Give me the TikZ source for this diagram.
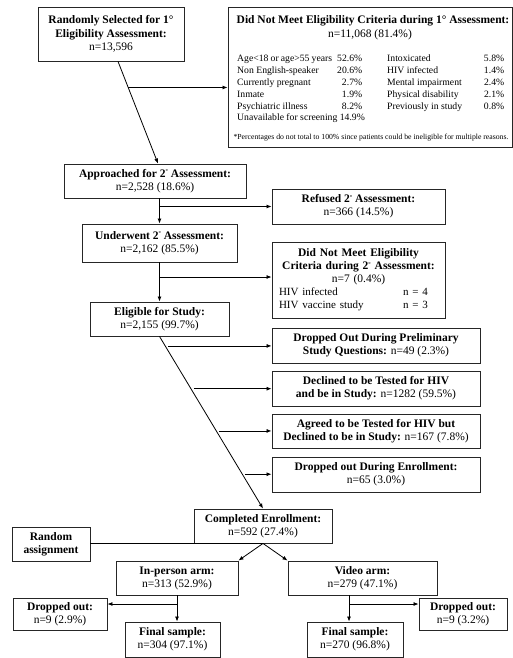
\documentclass[tikz,border=0pt]{standalone}
\usepackage{fontspec}
\usepackage{graphicx}
\setmainfont{Liberation Serif}
\usetikzlibrary{arrows.meta,calc}
\newcommand\critrow[2]{\hbox to 125pt{#1\hskip 5pt plus 1fill #2}}
\newcommand\critrowb[2]{\hbox to 117pt{#1\hfill #2}}
\newcommand\sdeg{\raisebox{3.5pt}{\fontsize{6}{6}\selectfont °}}
\begin{document}
\begin{tikzpicture}[x=1pt,y=-1pt,
  box/.style={draw=black!85,line width=0.9pt,align=center,inner sep=2pt,font=\fontsize{11.5}{13}\selectfont},
  arr/.style={line width=0.8pt,-{Latex[length=5pt,width=4pt]}},
  ln/.style={line width=0.8pt}]
\useasboundingbox (0,0) rectangle (513,658);

% top-left
\node[box,minimum width=146pt,minimum height=54pt,font=\fontsize{11.5}{13.5}\selectfont] (rand) at (111,34)
  {\textbf{Randomly Selected for 1°}\\\textbf{Eligibility Assessment:}\\n=13,596};

% big criteria box
\node[box,minimum width=284pt,minimum height=140pt] (crit1) at (370,77) {};
\node[anchor=base,inner sep=0,font=\bfseries\fontsize{11.5}{13}\selectfont] (crit1t) at (373,23.5)
  {Did Not Meet Eligibility Criteria during 1° Assessment:};
\node[anchor=base,inner sep=0,font=\fontsize{11.5}{13}\selectfont] (crit1n) at (370,37.5)
  {n=11,068 (81.4\%)};
\node[anchor=base west,inner sep=0] (crit1tab) at (237,61.5)
  {\fontsize{9.7}{11.9}\selectfont
   \begin{tabular}[t]{@{}l@{\hspace{25pt}}l@{}}
   \critrow{Age<18 or age>55 years}{52.6\%} & \critrowb{Intoxicated}{5.8\%}\\
   \critrow{Non English-speaker}{20.6\%} & \critrowb{HIV infected}{1.4\%}\\
   \critrow{Currently pregnant}{2.7\%} & \critrowb{Mental impairment}{2.4\%}\\
   \critrow{Inmate}{1.9\%} & \critrowb{Physical disability}{2.1\%}\\
   \critrow{Psychiatric illness}{8.2\%} & \critrowb{Previously in study}{0.8\%}\\
   \hbox to 125pt{Unavailable for screening 14.9\%\hss} & \\
   \end{tabular}};
\node[anchor=base,inner sep=0] (crit1f) at (371,139)
  {\resizebox{275pt}{!}{\fontsize{6}{7}\selectfont *Percentages do not total to 100\% since patients could be ineligible for multiple reasons.}};

% middle column
\node[box,minimum width=182pt,minimum height=34pt] (appr) at (155,181)
  {\textbf{Approached for 2\sdeg\ Assessment:}\\n=2,528 (18.6\%)};
\node[box,minimum width=173pt,minimum height=35pt] (refused) at (358.5,206.5)
  {\textbf{Refused 2\sdeg\ Assessment:}\\n=366 (14.5\%)};
\node[box,minimum width=155pt,minimum height=38pt] (und) at (159.5,243)
  {\textbf{Underwent 2\sdeg\ Assessment:}\\n=2,162 (85.5\%)};
\node[box,minimum width=173pt,minimum height=76pt,text width=166pt] (crit2) at (358.5,280)
  {\textbf{Did Not Meet Eligibility}\\\textbf{Criteria during 2\sdeg\ Assessment:}\\n=7 (0.4\%)\\
   \fontsize{11}{13}\selectfont\makebox[159pt][l]{\makebox[124pt][l]{HIV infected}n = 4}\\
   \makebox[159pt][l]{\makebox[124pt][l]{HIV vaccine study}n = 3}};
\node[box,minimum width=139pt,minimum height=34pt] (elig) at (159.5,319)
  {\textbf{Eligible for Study:}\\n=2,155 (99.7\%)};

\node[box,minimum width=208pt,minimum height=35pt] (prelim) at (376,345.5)
  {\textbf{Dropped Out During Preliminary}\\\textbf{Study Questions:} n=49 (2.3\%)};
\node[box,minimum width=208pt,minimum height=35pt] (declined) at (376,388.5)
  {\textbf{Declined to be Tested for HIV}\\\textbf{and be in Study:} n=1282 (59.5\%)};
\node[box,minimum width=208pt,minimum height=34pt] (agreed) at (376,431)
  {\textbf{Agreed to be Tested for HIV but}\\\textbf{Declined to be in Study:} n=167 (7.8\%)};
\node[box,minimum width=208pt,minimum height=35pt] (dropenr) at (376,474.5)
  {\textbf{Dropped out During Enrollment:}\\n=65 (3.0\%)};

% bottom
\node[box,minimum width=138pt,minimum height=34pt] (comp) at (263,526)
  {\textbf{Completed Enrollment:}\\n=592 (27.4\%)};
\node[box,minimum width=78pt,minimum height=34pt] (randa) at (51,544)
  {\textbf{Random}\\\textbf{assignment}};
\node[box,minimum width=122pt,minimum height=34pt] (inp) at (177,578)
  {\textbf{In-person arm:}\\n=313 (52.9\%)};
\node[box,minimum width=149pt,minimum height=34pt] (vid) at (362.5,578)
  {\textbf{Video arm:}\\n=279 (47.1\%)};
\node[box,minimum width=94pt,minimum height=32pt] (dropL) at (60,614)
  {\textbf{Dropped out:}\\n=9 (2.9\%)};
\node[box,minimum width=95pt,minimum height=35pt] (finL) at (172.5,639.5)
  {\textbf{Final sample:}\\n=304 (97.1\%)};
\node[box,minimum width=88pt,minimum height=32pt] (dropR) at (463,614)
  {\textbf{Dropped out:}\\n=9 (3.2\%)};
\node[box,minimum width=96pt,minimum height=35pt] (finR) at (355,639.5)
  {\textbf{Final sample:}\\n=270 (96.8\%)};

% connectors top
\coordinate (d1a) at ($(rand.south)+(7,0)$);
\coordinate (d1b) at ($(appr.north)+(3,0)$);
\draw[arr] (d1a) -- (d1b);
\coordinate (b1) at ($(d1a)!0.255!(d1b)$);
\draw[arr] (b1) -- (b1 -| crit1.west);

\draw[arr] (und.north |- appr.south) -- (und.north);
\draw[arr] (und.north |- refused.west) -- (refused.west);
\draw[arr] (elig.north |- und.south) -- (elig.north);
\coordinate (b2) at (159.5,277);
\draw[arr] (b2) -- (b2 -| crit2.west);

% diagonal to completed
\coordinate (d2a) at (elig.south);
\coordinate (d2b) at (comp.north);
\draw[arr] (d2a) -- (d2b);
\coordinate (p1) at ($(d2a)!0.055!(d2b)$);
\coordinate (p2) at ($(d2a)!0.3035!(d2b)$);
\coordinate (p3) at ($(d2a)!0.549!(d2b)$);
\coordinate (p4) at ($(d2a)!0.8006!(d2b)$);
\draw[arr] ($(p1)+(3,0)$) -- (p1 -| prelim.west);
\draw[arr] ($(p2)+(3,0)$) -- (p2 -| declined.west);
\draw[arr] ($(p3)+(3,0)$) -- (p3 -| agreed.west);
\draw[arr] ($(p4)+(3,0)$) -- (p4 -| dropenr.west);

% random assignment
\coordinate (split) at (comp.south);
\draw[ln] (randa.east |- split) -- (split);
\draw[arr] (split) -- (inp.north east);
\draw[arr] (split) -- (vid.north west);

% arms
\coordinate (bl) at (177,604);
\draw[arr] (inp.south -| bl) -- (finL.north -| bl);
\draw[arr] (bl) -- (bl -| dropL.east);
\coordinate (br) at (349,604);
\draw[arr] (vid.south -| br) -- (finR.north -| br);
\draw[arr] (br) -- (br -| dropR.west);
\end{tikzpicture}
\end{document}
